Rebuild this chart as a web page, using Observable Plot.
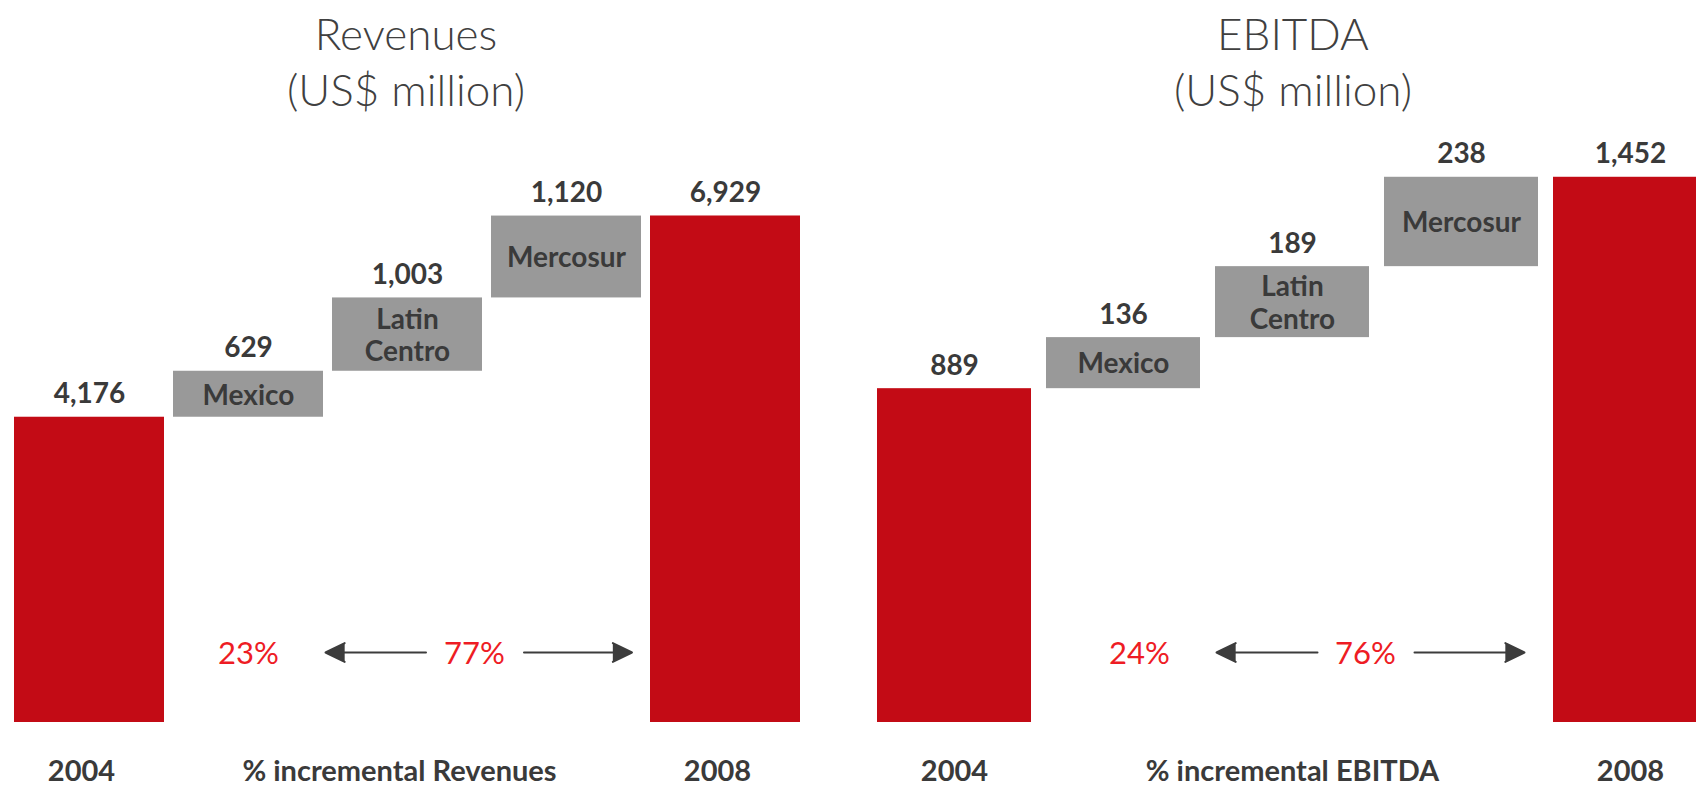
<!DOCTYPE html>
<html>
<head>
<meta charset="utf-8">
<script src="https://cdn.jsdelivr.net/npm/d3@7"></script>
<script src="https://cdn.jsdelivr.net/npm/@observablehq/plot@0.6"></script>
<style>
  html, body { margin: 0; padding: 0; background: #fff; overflow: hidden; }
  #page { position: relative; width: 1696px; height: 787px; overflow: hidden; font-family: Lato, "Open Sans", sans-serif; }
  .title { position: absolute; top: 0; width: 600px; text-align: center; font-size: 44px; line-height: 56px; padding-top: 5px; color: #404040; font-weight: 300; }
  .panel { position: absolute; top: 120px; }
  .panel svg { max-width: none !important; }
</style>
</head>
<body>
<div id="page">
  <div class="title" style="left:106px">Revenues<br>(US$ million)</div>
  <div class="title" style="left:993px">EBITDA<br>(US$ million)</div>
  <div class="panel" id="left" style="left:0px; width:848px"></div>
  <div class="panel" id="right" style="left:848px; width:870px"></div>
</div>
<script>
// ---- data ----
const steps = ["2004", "Mexico", "Latin Centro", "Mercosur", "2008"];
const boxLabels = ["", "Mexico", "Latin\nCentro", "Mercosur", ""];
const revenueValues = [4176, 629, 1003, 1120, 6929];
const ebitdaValues = [889, 136, 189, 238, 1452];
const revenueShares = ["23%", "77%"];
const ebitdaShares = ["24%", "76%"];
const revenueBottom = ["2004", "% incremental Revenues", "2008"];
const ebitdaBottom = ["2004", "% incremental EBITDA", "2008"];
const bottomKeys = ["2004", "Latin Centro", "2008"];

const RED = "#c30b15";
const GRAY = "#999999";
const TXT = "#3a3a3a";
const PCT = "#ee1c24";
const fmt = d3.format(",");

function waterfall(values) {
  let run = 0;
  return steps.map((s, i) => {
    const total = i === 0 || i === steps.length - 1;
    const y1 = total ? 0 : run;
    const y2 = total ? values[i] : run + values[i];
    if (i === 0) run = values[i];
    else if (!total) run += values[i];
    return {step: s, y1, y2, value: values[i], total, box: boxLabels[i]};
  });
}

function chart(cfg) {
  const data = waterfall(cfg.values);
  const bottom = bottomKeys.map((k, i) => ({step: k, label: cfg.bottom[i]}));
  return Plot.plot({
    width: cfg.width,
    height: 667,
    marginLeft: cfg.marginLeft,
    marginRight: cfg.marginRight,
    marginTop: 0,
    marginBottom: 65,
    style: {fontFamily: "Lato, 'Open Sans', sans-serif", background: "transparent", overflow: "visible", maxWidth: "none"},
    x: {type: "band", domain: steps, paddingInner: cfg.pad, paddingOuter: cfg.pad / 2, axis: null},
    y: {domain: cfg.yDomain, range: [602, 602 - cfg.yDomain[1] * cfg.k], axis: null},
    marks: [
      Plot.barY(data.filter(d => d.total), {x: "step", y1: "y1", y2: "y2", fill: RED}),
      Plot.barY(data.filter(d => !d.total), {x: "step", y1: "y1", y2: "y2", fill: GRAY}),
      Plot.text(data, {x: "step", y: "y2", text: d => fmt(d.value), lineAnchor: "bottom", dy: -14,
        fontSize: 28, fontWeight: "bold", fill: TXT}),
      Plot.text(data.filter(d => !d.total), {x: "step", y: d => (d.y1 + d.y2) / 2, text: "box",
        lineAnchor: "middle", lineHeight: 1.15, fontSize: 28, fontWeight: "bold", fill: TXT}),
      Plot.text([{step: "Mexico", t: cfg.shares[0]}], {x: "step", text: "t", frameAnchor: "bottom",
        lineAnchor: "middle", dy: -68, dx: cfg.pctDx[0], fontSize: 31, fill: PCT}),
      Plot.text([{step: "Latin Centro", t: cfg.shares[1]}], {x: "step", text: "t", frameAnchor: "bottom",
        lineAnchor: "middle", dy: -68, dx: cfg.pctDx[1], fontSize: 31, fill: PCT}),
      Plot.arrow([{a: "Latin Centro", b: "Mexico"}], {x1: "a", x2: "b", y1: () => 0, y2: () => 0, dy: -70,
        insetStart: cfg.leftArrow[0], insetEnd: cfg.leftArrow[1], stroke: "#3c3c3c", fill: "#3c3c3c",
        strokeWidth: 2, headLength: 16, headAngle: 52, strokeLinejoin: "miter"}),
      Plot.arrow([{a: "Latin Centro", b: "2008"}], {x1: "a", x2: "b", y1: () => 0, y2: () => 0, dy: -70,
        insetStart: cfg.rightArrow[0], insetEnd: cfg.rightArrow[1], stroke: "#3c3c3c", fill: "#3c3c3c",
        strokeWidth: 2, headLength: 16, headAngle: 52, strokeLinejoin: "miter"}),
      Plot.text(bottom, {x: "step", text: "label", frameAnchor: "bottom", lineAnchor: "bottom", dy: 58,
        dx: cfg.bottomDx, fontSize: 29, fontWeight: "bold", fill: TXT})
    ]
  });
}

document.getElementById("left").append(chart({
  values: revenueValues, shares: revenueShares, bottom: revenueBottom,
  width: 848, marginLeft: 8.6, marginRight: 42.4, pad: 0.055,
  yDomain: [0, 8000], k: 0.0731, bottomDx: -8,
  pctDx: [0, 67], leftArrow: [-18.5, 77], rightArrow: [116.5, 93.5]
}));
document.getElementById("right").append(chart({
  values: ebitdaValues, shares: ebitdaShares, bottom: ebitdaBottom,
  width: 870, marginLeft: 20.4, marginRight: 3.6, pad: 0.09,
  yDomain: [0, 1600], k: 0.3755, bottomDx: 0,
  pctDx: [16, 73], leftArrow: [-25, 93], rightArrow: [122, 106]
}));
</script>
</body>
</html>
